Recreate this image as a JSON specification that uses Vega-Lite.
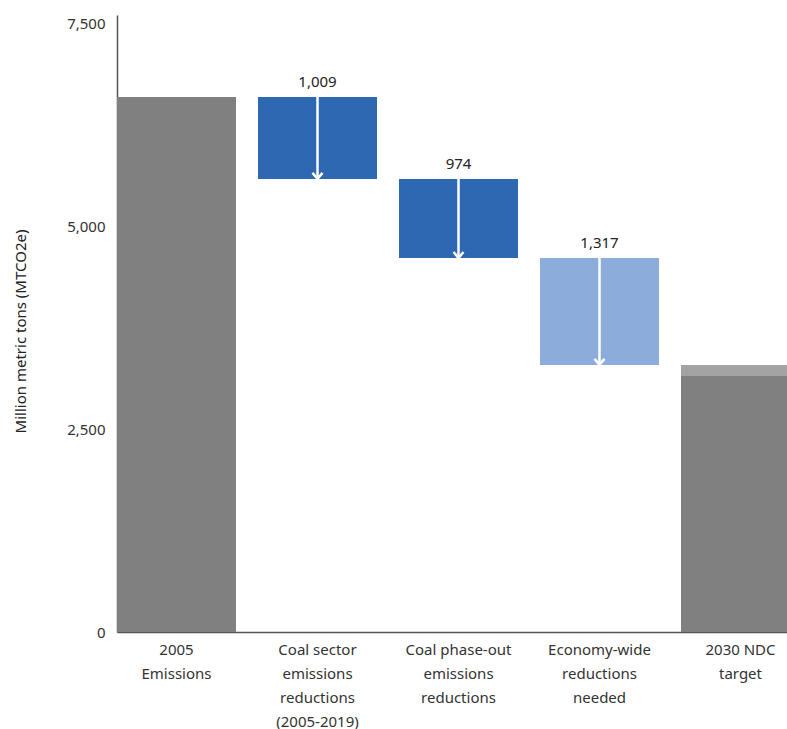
{
  "$schema": "https://vega.github.io/schema/vega-lite/v6.json",
  "autosize": "none",
  "padding": {"left": 117, "top": 15, "right": 0, "bottom": 97},
  "width": 670,
  "height": 617,
  "background": "white",
  "config": {
    "view": {"stroke": null},
    "font": "Noto Sans",
    "axisY": {
      "grid": false,
      "ticks": false,
      "labelFontSize": 15,
      "labelColor": "#333333",
      "labelPadding": 12,
      "titleFontSize": 15,
      "titleFontWeight": "normal",
      "titleColor": "#222222",
      "titlePadding": 38,
      "titleY": 316,
      "domainColor": "#555555",
      "domainWidth": 1.5
    }
  },
  "datasets": {
    "bars": [
      {"cat": "2005|Emissions", "lo": 0, "hi": 6590, "kind": "total"},
      {"cat": "Coal sector|emissions|reductions|(2005-2019)", "lo": 5581, "hi": 6590, "kind": "coal"},
      {"cat": "Coal phase-out|emissions|reductions", "lo": 4607, "hi": 5581, "kind": "coal"},
      {"cat": "Economy-wide|reductions|needed", "lo": 3290, "hi": 4607, "kind": "economy"},
      {"cat": "2030 NDC|target", "lo": 0, "hi": 3163, "kind": "total"},
      {"cat": "2030 NDC|target", "lo": 3163, "hi": 3290, "kind": "range"}
    ],
    "steps": [
      {"cat": "Coal sector|emissions|reductions|(2005-2019)", "lo": 5581, "hi": 6590, "value": 1009},
      {"cat": "Coal phase-out|emissions|reductions", "lo": 4607, "hi": 5581, "value": 974},
      {"cat": "Economy-wide|reductions|needed", "lo": 3290, "hi": 4607, "value": 1317}
    ]
  },
  "encoding": {
    "x": {
      "field": "cat",
      "type": "nominal",
      "sort": null,
      "scale": {
        "domain": ["2005|Emissions", "Coal sector|emissions|reductions|(2005-2019)", "Coal phase-out|emissions|reductions", "Economy-wide|reductions|needed", "2030 NDC|target"],
        "range": [0, 683],
        "paddingInner": 0.156,
        "paddingOuter": 0
      },
      "axis": {
        "title": null,
        "labelAngle": 0,
        "labelExpr": "split(datum.label, '|')",
        "labelFontSize": 15,
        "labelColor": "#333333",
        "labelLineHeight": 24,
        "labelPadding": 10,
        "labelBaseline": "top",
        "ticks": false,
        "domainColor": "#555555",
        "domainWidth": 1.5,
        "labelLimit": 200
      }
    }
  },
  "layer": [
    {
      "data": {"name": "bars"},
      "mark": {"type": "bar", "width": {"band": 1}},
      "encoding": {
        "y": {
          "field": "lo",
          "type": "quantitative",
          "scale": {"domain": [0, 7600], "nice": false},
          "axis": {"title": "Million metric tons (MTCO2e)", "values": [0, 2500, 5000, 7500], "format": ",.0f"}
        },
        "y2": {"field": "hi"},
        "color": {
          "field": "kind",
          "type": "nominal",
          "scale": {
            "domain": ["total", "coal", "economy", "range"],
            "range": ["#808080", "#2E67B2", "#8CADDB", "#A3A3A3"]
          },
          "legend": null
        }
      }
    },
    {
      "data": {"name": "steps"},
      "mark": {"type": "rule", "color": "white", "strokeWidth": 2.5},
      "encoding": {
        "y": {"field": "hi", "type": "quantitative", "axis": {"title": "Million metric tons (MTCO2e)", "values": [0, 2500, 5000, 7500], "format": ",.0f"}},
        "y2": {"field": "lo"}
      }
    },
    {
      "data": {"name": "steps"},
      "mark": {
        "type": "point",
        "shape": "M-1,-1.2L0,0L1,-1.2",
        "filled": false,
        "stroke": "white",
        "strokeWidth": 2.5,
        "size": 100,
        "opacity": 1
      },
      "encoding": {
        "y": {"field": "lo", "type": "quantitative", "axis": {"title": "Million metric tons (MTCO2e)", "values": [0, 2500, 5000, 7500], "format": ",.0f"}}
      }
    },
    {
      "data": {"name": "steps"},
      "mark": {"type": "text", "fontSize": 15, "color": "#222222", "baseline": "alphabetic", "dy": -10},
      "encoding": {
        "y": {"field": "hi", "type": "quantitative", "axis": {"title": "Million metric tons (MTCO2e)", "values": [0, 2500, 5000, 7500], "format": ",.0f"}},
        "text": {"field": "value", "type": "quantitative", "format": ","}
      }
    }
  ]
}
